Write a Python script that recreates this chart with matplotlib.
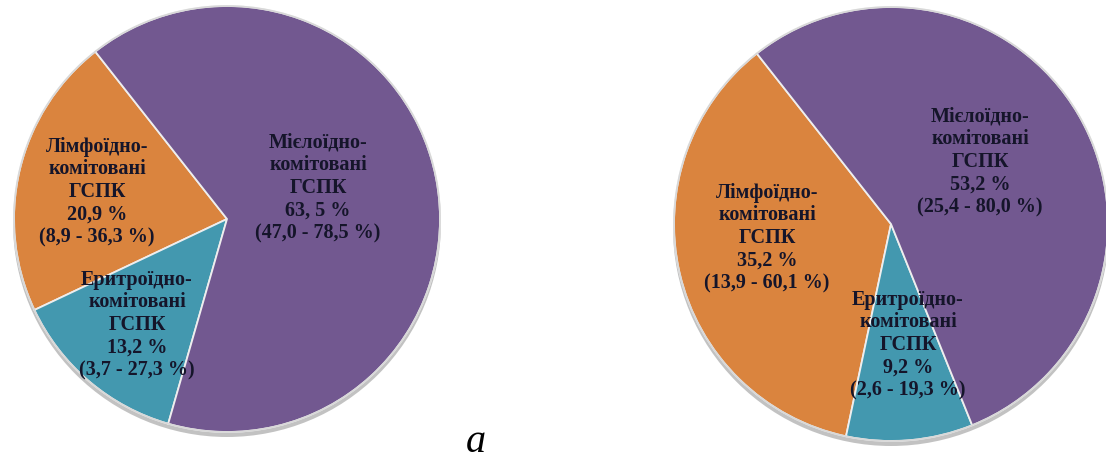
import matplotlib
matplotlib.use('Agg')
from matplotlib import pyplot as plt
from matplotlib.patches import Circle

# categories (order: lymphoid, erythroid, myeloid)
categories = ['Лімфоїдно-\nкомітовані\nГСПК', 'Еритроїдно-\nкомітовані\nГСПК', 'Мієлоїдно-\nкомітовані\nГСПК']
colors = ['#DA843E', '#4398AF', '#725890']

left_values = [20.9, 13.2, 63.5]
left_pct = ['20,9 %', '13,2 %', '63, 5 %']
left_ranges = ['(8,9 - 36,3 %)', '(3,7 - 27,3 %)', '(47,0 - 78,5 %)']

right_values = [35.2, 9.2, 53.2]
right_pct = ['35,2 %', '9,2 %', '53,2 %']
right_ranges = ['(13,9 - 60,1 %)', '(2,6 - 19,3 %)', '(25,4 - 80,0 %)']

panel_label = 'a'

W, H = 1106, 461
fig = plt.figure(figsize=(W / 100, H / 100), dpi=100)
ax = fig.add_axes([0, 0, 1, 1])

def draw_pie(values, pcts, ranges, center, radius, label_pos):
    # soft shadow under the pie
    sh = Circle((center[0], center[1] - 4), radius + 1, facecolor='#9a9a9a',
                edgecolor='none', alpha=0.6, zorder=1)
    ax.add_patch(sh)
    wedges, _ = ax.pie(values, colors=colors, startangle=128.2, counterclock=True,
                       center=center, radius=radius,
                       wedgeprops=dict(edgecolor='#eeeeee', linewidth=1.3))
    for w in wedges:
        w.set_zorder(2)
    rim = Circle(center, radius, facecolor='none', edgecolor='#d8d8d8', linewidth=1.2, zorder=3)
    ax.add_patch(rim)
    for cat, p, r, (x, y) in zip(categories, pcts, ranges, label_pos):
        ax.text(x, H - y, cat + '\n' + p + '\n' + r, ha='center', va='center',
                fontsize=14.5, fontweight='bold', family='Liberation Serif',
                color='#15152a', linespacing=1.17, zorder=5)

draw_pie(left_values, left_pct, left_ranges, (227, H - 219), 213,
         [(97, 192), (137, 325), (318, 188)])
draw_pie(right_values, right_pct, right_ranges, (891, H - 224), 217,
         [(767, 238), (908, 345), (980, 162)])

ax.text(476, H - 443, panel_label, ha='center', va='center', fontsize=29,
        style='italic', family='Liberation Serif', color='black')

ax.set_xlim(0, W)
ax.set_ylim(0, H)
ax.set_aspect('equal')
ax.axis('off')

plt.savefig('out.png', dpi=100)
